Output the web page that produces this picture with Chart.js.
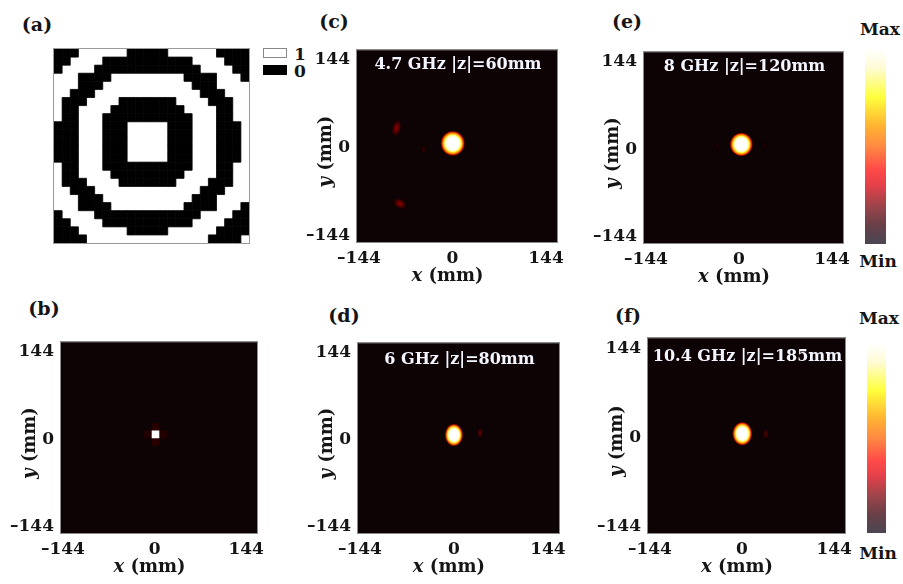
<!DOCTYPE html>
<html>
<head>
<meta charset="utf-8">
<script src="https://cdn.jsdelivr.net/npm/chart.js@4.4.0/dist/chart.umd.min.js"></script>
<style>
  body { margin: 0; width: 903px; height: 584px; overflow: hidden; position: relative; background: #fff;
         font-family: 'DejaVu Serif', serif; font-weight: bold; color: #151515; }
  canvas { position: absolute; }
  .t { position: absolute; line-height: 1; transform: translate(-50%, -50%); white-space: nowrap; }
  .tag { font-size: 19px; }
  .lg { position: absolute; width: 24px; height: 10px; box-sizing: border-box; }
  .bar { position: absolute; background: linear-gradient(to bottom, #ffffff 0%, #fffbd6 10%, #ffff3c 25%,
         #ffb232 40%, #ff8a42 50%, #ff4a48 62%, #e4404a 70%, #a0444a 80%, #6a4048 90%, #4a4652 100%); }
</style>
</head>
<body>

<div class="t tag" style="left:37px;top:24px">(a)</div>
<div class="t tag" style="left:44px;top:308px">(b)</div>
<div class="t tag" style="left:334px;top:21px">(c)</div>
<div class="t tag" style="left:344px;top:315px">(d)</div>
<div class="t tag" style="left:627px;top:21px">(e)</div>
<div class="t tag" style="left:628px;top:315px">(f)</div>

<div class="lg" style="left:263px;top:48px;border:1px solid #888;background:#fff"></div>
<div class="lg" style="left:263px;top:65px;background:#000"></div>
<div class="t" style="left:300px;top:54px;font-size:17px">1</div>
<div class="t" style="left:300px;top:71px;font-size:17px">0</div>

<div class="bar" style="left:865px;top:48px;width:21px;height:196px"></div>
<div class="t" style="left:880px;top:29px;font-size:17px">Max</div>
<div class="t" style="left:878px;top:261px;font-size:17px">Min</div>
<div class="bar" style="left:867px;top:343px;width:19px;height:190px"></div>
<div class="t" style="left:879px;top:318px;font-size:17px">Max</div>
<div class="t" style="left:878px;top:553px;font-size:17px">Min</div>

<canvas id="pa"></canvas>
<canvas id="pb"></canvas>
<canvas id="pc"></canvas>
<canvas id="pd"></canvas>
<canvas id="pe"></canvas>
<canvas id="pf"></canvas>

<script>
// ─── Data ──────────────────────────────────────────────────────
// (a) binary metasurface pattern, 1 = white, 0 = black (row 0 at top)
const patternRows = [
  '000111111000001111110000',
  '001111000000000001111000',
  '011110000000000000111100',
  '111000011111111100001110',
  '111000111111111110001111',
  '110001111111111111000111',
  '100011110000000111100011',
  '100111100000000011110011',
  '100111000000000001110011',
  '000111000111110001110001',
  '000111000111110001110001',
  '000111000111110001110001',
  '000111000111110001110001',
  '000111000111110001110001',
  '100111000000000001110011',
  '100111100000000011110011',
  '100011110000000111100011',
  '110001111111111111000111',
  '111000111111111110001111',
  '111000011111111100001110',
  '011110000000000000111100',
  '001111000000000001111000',
  '000111111000001111110000',
  '000011111111111111100001'
];

const axisTicks = [-144, 0, 144];
const captions  = ['4.7 GHz |z|=60mm', '6 GHz |z|=80mm', '8 GHz |z|=120mm', '10.4 GHz |z|=185mm'];

// (b) focal cells: x, y (mm), level
const bX = [1.5, 1.5, -10.5, 13.5, 1.5];
const bY = [19.8, -4.2, 7.8, 7.8, 7.8];
const bL = [0.06, 0.06, 0.05, 0.05, 1.2];

// focal spots / side lobes: centre x, y, half-widths rx, ry (mm), tilt (deg), level
const cX   = [-45, -86, -81, 0.4];
const cY   = [-3, 32, -92, 7];
const cRx  = [5, 8, 12, 19];
const cRy  = [9, 16, 9, 21];
const cRot = [0, 15, 30, 0];
const cL   = [0.07, 0.19, 0.19, 1];

const dX   = [40, 0];
const dY   = [11, 7.7];
const dRx  = [5, 14];
const dRy  = [11, 19];
const dRot = [0, 0];
const dL   = [0.14, 1];

const eX   = [-34, 40, 3.6];
const eY   = [5, 5, 7.8];
const eRx  = [4, 4, 18];
const eRy  = [10, 10, 20];
const eRot = [0, 0, 0];
const eL   = [0.05, 0.05, 1];

const fX   = [37, 0.4];
const fY   = [5, 5.6];
const fRx  = [5, 15.6];
const fRy  = [10, 19.4];
const fRot = [0, 0];
const fL   = [0.12, 1];

// ─── Helpers ───────────────────────────────────────────────────
const X_MIN = -147, X_MAX = 161, Y_MIN = -155, Y_MAX = 160;
const PAD_L = 60, PAD_T = 12, PAD_R = 14, PAD_B = 50;
const FONT  = '"DejaVu Serif", serif';
const BG    = '#0d0204';
// radial intensity profile of a saturated focal spot (t = r / R, value fed to hot map)
const spotProfile = [[0, 1.3], [0.45, 1.05], [0.58, 0.95], [0.66, 0.85], [0.74, 0.66],
                     [0.8, 0.56], [0.86, 0.47], [0.92, 0.21], [0.97, 0.07], [1, 0]];

function hot(v) {
    const c = t => Math.max(0, Math.min(1, t));
    return [c(v / 0.375), c((v - 0.375) / 0.375), c((v - 0.75) / 0.25)].map(u => Math.round(u * 255));
}

function scaleSpan(scale, v) {
    const d = Math.abs(scale.getPixelForValue(v) - scale.getPixelForValue(0));
    return isFinite(d) ? d : 0;
}
const mmToPx = (chart, mm) => scaleSpan(chart.scales.x, mm);
const mmToPy = (chart, mm) => scaleSpan(chart.scales.y, mm);

function blobImage(chart, raw) {
    const rx = Math.max(1, mmToPx(chart, raw.rx));
    const ry = Math.max(1, mmToPy(chart, raw.ry));
    const cv = document.createElement('canvas');
    cv.width = Math.ceil(rx * 2);
    cv.height = Math.ceil(ry * 2);
    const g2 = cv.getContext('2d');
    g2.translate(cv.width / 2, cv.height / 2);
    g2.scale(rx, ry);
    const g = g2.createRadialGradient(0, 0, 0, 0, 0, 1);
    if (raw.level >= 0.5) {
        spotProfile.forEach(([t, v], i) => {
            const [r, gg, b] = hot(v * raw.level);
            const a = i === spotProfile.length - 1 ? 0 : Math.min(1, v / 0.12);
            g.addColorStop(t, `rgba(${r},${gg},${b},${a})`);
        });
    } else {
        for (let i = 0; i <= 10; i++) {
            const t = i / 10, f = Math.exp(-2 * t * t);
            const [r, gg, b] = hot(raw.level * f);
            g.addColorStop(t, `rgba(${r},${gg},${b},${i === 10 ? 0 : Math.min(1, 1.8 * f)})`);
        }
    }
    g2.fillStyle = g;
    g2.beginPath();
    g2.arc(0, 0, 1, 0, Math.PI * 2);
    g2.fill();
    return cv;
}

function cellFill(ctx) {
    if (!ctx.raw) return 'transparent';
    const [r, g, b] = hot(ctx.raw.level);
    return `rgb(${r},${g},${b})`;
}

const fmtTick = v => (v < 0 ? '\u2013' + Math.abs(v) : String(v));

function drawParts(ctx, parts, cx, cy, rot) {
    ctx.save();
    ctx.translate(cx, cy);
    ctx.rotate(rot);
    ctx.textBaseline = 'middle';
    ctx.fillStyle = '#151515';
    let total = 0;
    parts.forEach(p => { ctx.font = p.font; p.w = ctx.measureText(p.text).width; total += p.w; });
    let x = -total / 2;
    parts.forEach(p => { ctx.font = p.font; ctx.fillText(p.text, x, 0); x += p.w; });
    ctx.restore();
}

// ─── Plugin: background, frame, caption, axis titles ──────────
const panelDecor = {
    id: 'panelDecor',
    beforeDraw(chart, _args, opts) {
        const { ctx, chartArea: a } = chart;
        if (!opts.bg) return;
        ctx.save();
        ctx.fillStyle = opts.bg;
        ctx.fillRect(a.left, a.top, a.width, a.height);
        ctx.restore();
    },
    afterDraw(chart, _args, opts) {
        const { ctx, chartArea: a } = chart;
        ctx.save();
        ctx.strokeStyle = opts.frame || '#8a8a8a';
        ctx.lineWidth = 1;
        ctx.strokeRect(Math.round(a.left) - 0.5, Math.round(a.top) - 0.5,
                       Math.round(a.width) + 1, Math.round(a.height) + 1);
        if (opts.caption) {
            ctx.fillStyle = '#f3f5ff';
            ctx.font = `bold 16px ${FONT}`;
            ctx.textAlign = 'center';
            ctx.textBaseline = 'middle';
            ctx.fillText(opts.caption, (a.left + a.right) / 2 + 1, a.top + (opts.capY || 16));
        }
        ctx.restore();
        if (opts.titles) {
            const x0 = chart.scales.x.getPixelForValue(0);
            const y0 = chart.scales.y.getPixelForValue(0);
            drawParts(ctx, [{ text: 'x', font: `italic bold 18px ${FONT}` },
                            { text: ' (mm)', font: `bold 18px ${FONT}` }], x0 - 5, a.bottom + 34, 0);
            drawParts(ctx, [{ text: 'y', font: `italic bold 18px ${FONT}` },
                            { text: ' (mm)', font: `bold 18px ${FONT}` }], a.left - 31, y0 + 4, -Math.PI / 2);
        }
    }
};

function placeCanvas(id, left, top, w, h) {
    const cv = document.getElementById(id);
    cv.width = w; cv.height = h;
    cv.style.left = left + 'px'; cv.style.top = top + 'px';
    cv.style.width = w + 'px'; cv.style.height = h + 'px';
    return cv;
}

const tickFont = { family: FONT, size: 17, weight: 'bold' };

function heatChart(id, box, datasets, caption, capY) {
    const cv = placeCanvas(id, box.l - PAD_L, box.t - PAD_T, box.w + PAD_L + PAD_R, box.h + PAD_T + PAD_B);
    return new Chart(cv, {
        type: 'scatter',
        data: { datasets },
        options: {
            responsive: false,
            animation: false,
            devicePixelRatio: 1,
            events: [],
            layout: { autoPadding: false, padding: { top: PAD_T, right: PAD_R, left: 0, bottom: 0 } },
            plugins: {
                legend: { display: false },
                tooltip: { enabled: false },
                panelDecor: { bg: BG, caption, capY, titles: true }
            },
            scales: {
                x: {
                    type: 'linear', min: X_MIN, max: X_MAX,
                    afterBuildTicks: s => { s.ticks = axisTicks.map(v => ({ value: v })); },
                    afterFit: s => { s.height = PAD_B; },
                    grid: { display: false, drawTicks: false }, border: { display: false },
                    ticks: { font: tickFont, color: '#151515', padding: 6, maxRotation: 0, autoSkip: false, callback: fmtTick }
                },
                y: {
                    type: 'linear', min: Y_MIN, max: Y_MAX,
                    afterBuildTicks: s => { s.ticks = axisTicks.map(v => ({ value: v })); },
                    afterFit: s => { s.width = PAD_L; },
                    grid: { display: false, drawTicks: false }, border: { display: false },
                    ticks: { font: tickFont, color: '#151515', padding: 7, autoSkip: false, callback: fmtTick }
                }
            }
        },
        plugins: [panelDecor]
    });
}

function spotSet(xs, ys, rxs, rys, rots, ls) {
    return {
        data: xs.map((x, i) => ({ x, y: ys[i], rx: rxs[i], ry: rys[i], level: ls[i] })),
        pointStyle: c => (c.raw ? blobImage(c.chart, c.raw) : 'circle'),
        pointRadius: c => (c.raw ? Math.max(1, mmToPx(c.chart, c.raw.rx)) : 0),
        pointHoverRadius: c => (c.raw ? Math.max(1, mmToPx(c.chart, c.raw.rx)) : 0),
        pointRotation: c => rots[c.dataIndex] || 0,
        pointBackgroundColor: 'transparent',
        pointBorderWidth: 0
    };
}

// ─── (a) pattern ───────────────────────────────────────────────
const blackCells = [];
patternRows.forEach((row, r) => [...row].forEach((v, c) => { if (v === '0') blackCells.push({ x: c, y: r }); }));

const cvA = placeCanvas('pa', 50, 45, 203, 202);
new Chart(cvA, {
    type: 'scatter',
    data: {
        datasets: [{
            data: blackCells,
            pointStyle: 'rect',
            pointRadius: c => mmToPx(c.chart, 1) / Math.SQRT2,
            pointBackgroundColor: '#000',
            pointBorderColor: '#000',
            pointBorderWidth: 0.8
        }]
    },
    options: {
        responsive: false, animation: false, devicePixelRatio: 1, events: [],
        layout: { autoPadding: false, padding: 4 },
        plugins: { legend: { display: false }, tooltip: { enabled: false }, panelDecor: { frame: '#9a9a9a' } },
        scales: {
            x: { display: false, min: -0.5, max: 23.5 },
            y: { display: false, min: -0.5, max: 23.5, reverse: true }
        }
    },
    plugins: [panelDecor]
});

// ─── (b) … (f) field intensity panels ─────────────────────────
heatChart('pb', { l: 61, t: 337, w: 196, h: 196 }, [{
    data: bX.map((x, i) => ({ x, y: bY[i], level: bL[i] })),
    pointStyle: 'rect',
    pointRadius: c => mmToPx(c.chart, 12) / Math.SQRT2,
    pointBackgroundColor: cellFill,
    pointBorderWidth: 0
}], '', 16);

heatChart('pc', { l: 357, t: 45,  w: 200, h: 197 }, [spotSet(cX, cY, cRx, cRy, cRot, cL)], captions[0], 15);
heatChart('pd', { l: 358, t: 338, w: 201, h: 195 }, [spotSet(dX, dY, dRx, dRy, dRot, dL)], captions[1], 17);
heatChart('pe', { l: 644, t: 47,  w: 199, h: 196 }, [spotSet(eX, eY, eRx, eRy, eRot, eL)], captions[2], 15);
heatChart('pf', { l: 648, t: 333, w: 197, h: 200 }, [spotSet(fX, fY, fRx, fRy, fRot, fL)], captions[3], 19);
</script>
</body>
</html>
